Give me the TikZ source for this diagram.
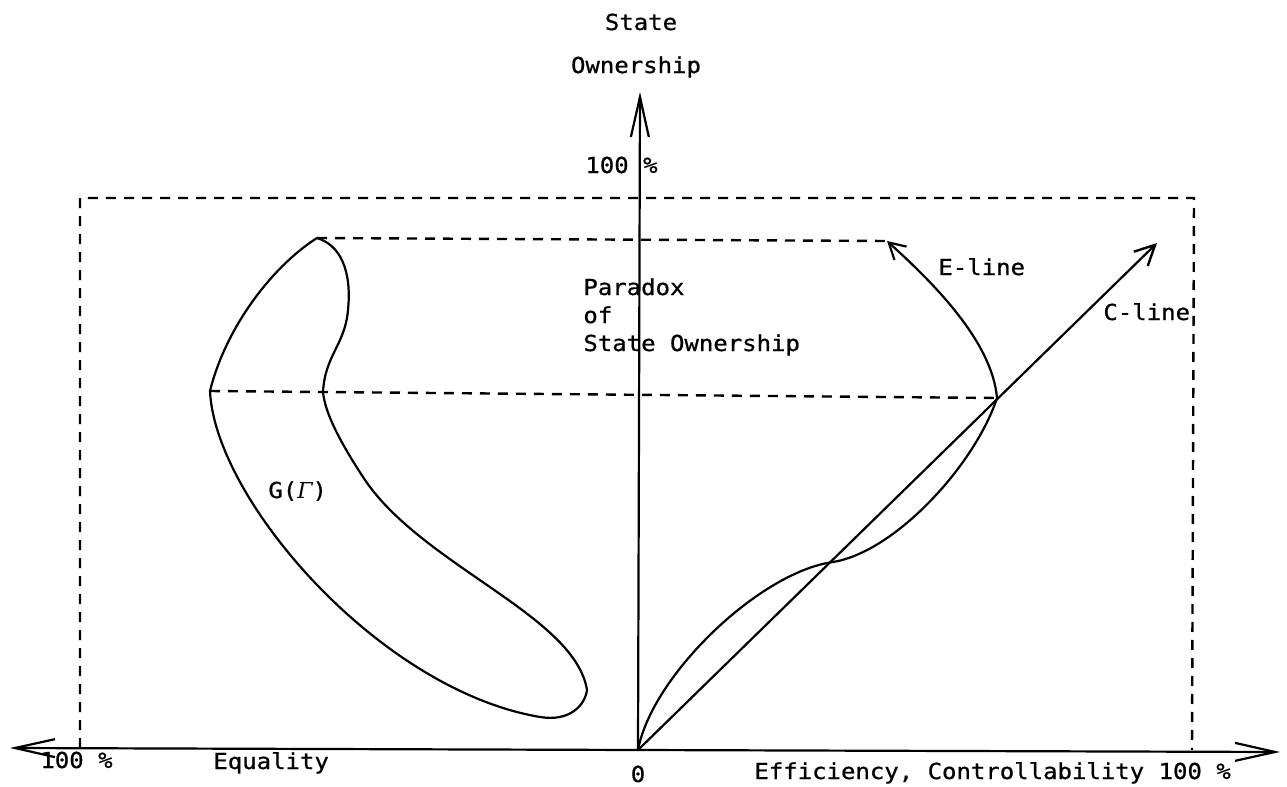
\documentclass[tikz,border=0pt]{standalone}
\usepackage{fontspec}
\newfontfamily\tw[FakeStretch=1.09,FakeBold=0.8]{DejaVu Sans Mono}
\newfontfamily\grk{DejaVu Serif}
\usetikzlibrary{arrows.meta}
\begin{document}
\begin{tikzpicture}[x=0.5pt,y=-0.5pt,
  lbl/.style={font=\tw\fontsize{11}{13}\selectfont, inner sep=0pt},
  curve/.style={line width=1.1pt, line join=round, line cap=round},
  dashln/.style={line width=1.2pt, dash pattern=on 5pt off 4pt},
  axis/.style={line width=1.1pt},
  bigtip/.style={-{Straight Barb[length=20pt,width=9pt,line width=1.1pt]}},
  smalltip/.style={-{Straight Barb[length=8pt,width=9pt,line width=1.1pt]}},
  ctip/.style={-{Straight Barb[length=10pt,width=10pt,line width=1.2pt]}}]
\useasboundingbox (0,0) rectangle (1287,787);

% key points
\coordinate (O) at (638,750);
\coordinate (L) at (10,748);
\coordinate (R) at (1280,752);
\coordinate (T) at (640,92);
\coordinate (P) at (997,398);
\coordinate (X) at (833,562);
\coordinate (Etip) at (887,241);
\coordinate (Ctip) at (1157,243);
\coordinate (Gtop) at (317,238);
\coordinate (Gleft) at (210,391);
\coordinate (Gin) at (323,392);
\coordinate (Gbot) at (540,717);
\coordinate (Gtip) at (587,690);
\coordinate (Gmid) at (363,477);
\coordinate (Gup) at (348,310);
\coordinate (RBl) at (80,748);
\coordinate (RTl) at (80,198);
\coordinate (RTr) at (1194,198);
\coordinate (RBr) at (1192,750);

% dashed frame and guide lines
\draw[dashln] (RBl) -- (RTl) -- (RTr) -- (RBr);
\draw[dashln] (Gtop) -- (Etip);
\draw[dashln] (Gleft) -- (P);

% axes
\draw[axis,bigtip] (O) -- (L);
\draw[axis,bigtip] (O) -- (R);
\draw[axis,bigtip] (O) -- (T);

% C-line
\draw[curve,ctip] (O) -- (Ctip);

% S-shaped curve
\draw[curve] (O) .. controls (652,675) and (760,572) .. (X)
                 .. controls (895,552) and (975,465) .. (P);

% E-line
\draw[curve,smalltip] (P) .. controls (992,340) and (930,280) .. (Etip);

% G(Gamma) region
\draw[curve] (Gtop) .. controls (270,268) and (225,330) .. (Gleft)
   .. controls (215,500) and (380,690) .. (Gbot)
   .. controls (570,722) and (585,705) .. (Gtip)
   .. controls (575,615) and (420,565) .. (Gmid)
   .. controls (344,448) and (325,415) .. (Gin)
   .. controls (325,355) and (345,345) .. (Gup)
   .. controls (352,270) and (340,245) .. (Gtop) -- cycle;

% labels
\node[lbl, anchor=base] (state) at (641,30) {State};
\node[lbl, anchor=base] (own) at (636,73) {Ownership};
\node[lbl, anchor=base west] (top100) at (585,173) {100 \%};
\node[lbl, anchor=base west] (par1) at (583,295) {Paradox};
\node[lbl, anchor=base west] (par2) at (583,323) {of};
\node[lbl, anchor=base west] (par3) at (583,351) {State Ownership};
\node[lbl, anchor=base west] (eline) at (938,275) {E-line};
\node[lbl, anchor=base west] (cline) at (1103,320) {C-line};
\node[lbl, anchor=base west] (gg) at (268,498) {G({\grk\itshape Γ})};
\node[lbl, anchor=base west] (l100) at (40,768) {100 \%};
\node[lbl, anchor=base west] (eq) at (213,769) {Equality};
\node[lbl, anchor=base] (zero) at (638,782) {0};
\node[lbl, anchor=base west] (eff) at (754,779) {Efficiency, Controllability 100 \%};
\end{tikzpicture}
\end{document}
